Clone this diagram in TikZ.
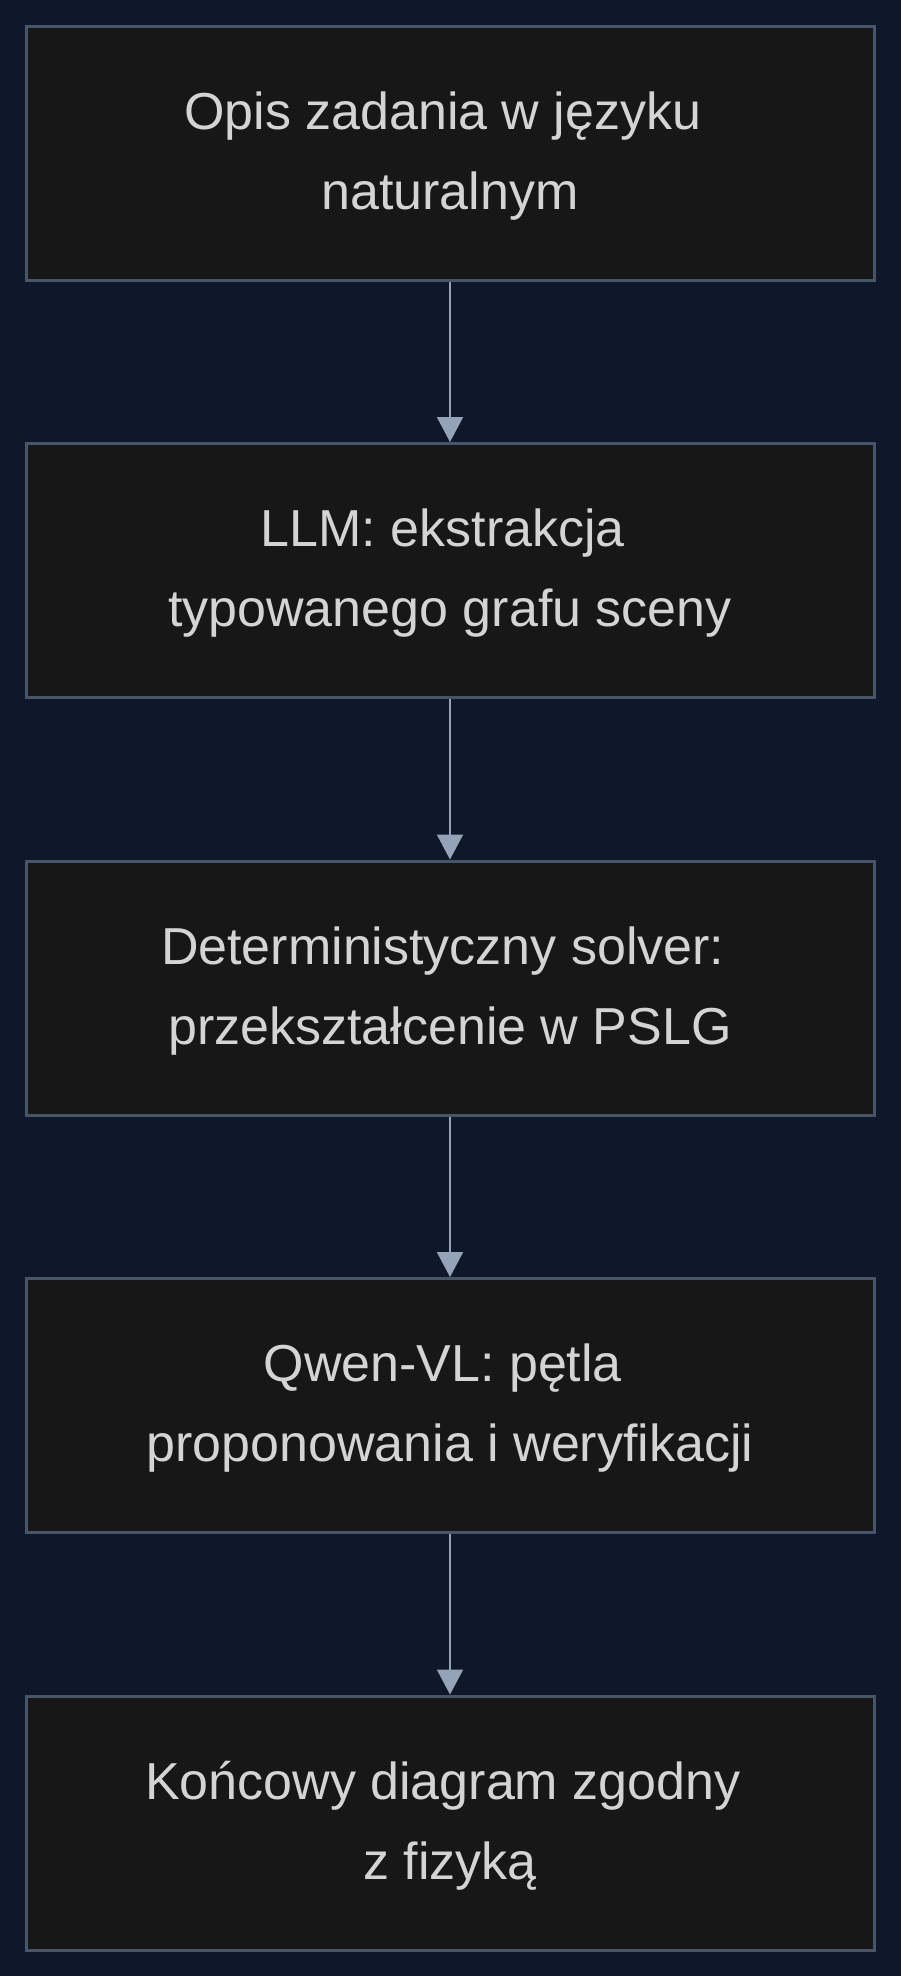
\documentclass[tikz,border=0pt]{standalone}
\usepackage{fontspec}
\setmainfont{Liberation Sans}
\usetikzlibrary{arrows.meta}
\definecolor{bgc}{HTML}{0F172A}
\definecolor{boxfill}{HTML}{171717}
\definecolor{boxline}{HTML}{475569}
\definecolor{txt}{HTML}{D4D4D4}
\definecolor{arr}{HTML}{94A3B8}
\begin{document}
\begin{tikzpicture}[x=1pt,y=-1pt,
  stagebox/.style={draw=boxline, line width=3pt, fill=boxfill, minimum width=848pt, minimum height=254pt, inner sep=0pt},
  label/.style={text=txt, align=center, font=\fontsize{52}{80}\selectfont, yshift=-3pt},
  flow/.style={draw=arr, line width=2pt, -{Triangle[width=26pt,length=25pt]}}]
\useasboundingbox (0,0) rectangle (900,1976);
\fill[bgc] (-10,-10) rectangle (910,1986);
\node[stagebox] (b1) at (450,153) {};
\node[stagebox] (b2) at (450,570.5) {};
\node[stagebox] (b3) at (450,988) {};
\node[stagebox] (b4) at (450,1405.5) {};
\node[stagebox] (b5) at (450,1823) {};
\node[label] (t1) at (b1.center) {Opis zadania w języku\ \mbox{}\\naturalnym};
\node[label] (t2) at (b2.center) {LLM: ekstrakcja\ \mbox{}\\typowanego grafu sceny};
\node[label] (t3) at (b3.center) {Deterministyczny solver:\ \mbox{}\\przekształcenie w PSLG};
\node[label] (t4) at (b4.center) {Qwen-VL: pętla\ \mbox{}\\proponowania i weryfikacji};
\node[label] (t5) at (b5.center) {Końcowy diagram zgodny\ \mbox{}\\z fizyką};
\draw[flow] (b1.south) -- (b2.north);
\draw[flow] (b2.south) -- (b3.north);
\draw[flow] (b3.south) -- (b4.north);
\draw[flow] (b4.south) -- (b5.north);
\end{tikzpicture}
\end{document}
